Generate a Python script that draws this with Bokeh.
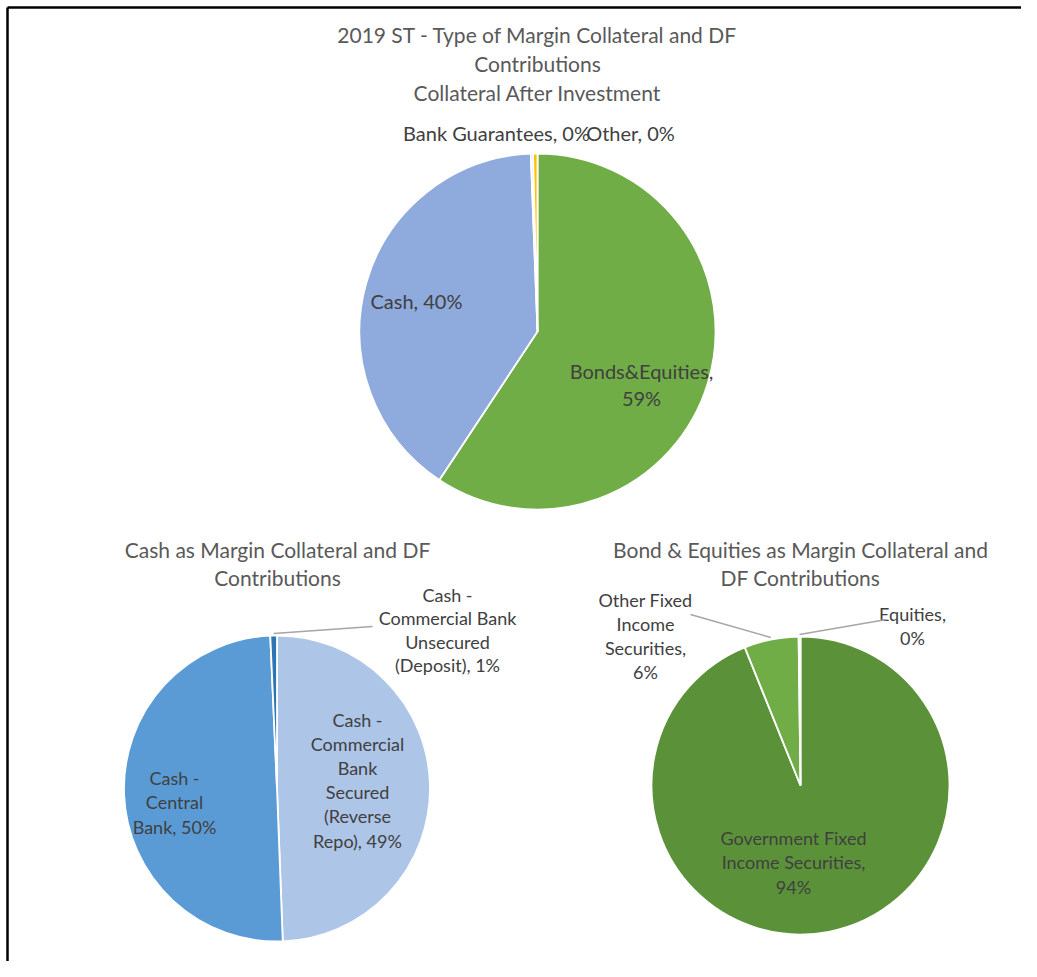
import math
from bokeh.plotting import figure
from bokeh.models import Range1d, ColumnDataSource
from bokeh.core.properties import value
from bokeh.embed import file_html
from bokeh.resources import INLINE

# ---------------- data ----------------
top_title = "2019 ST - Type of Margin Collateral and DF\nContributions\nCollateral After Investment"
top_cats = ["Bonds&Equities", "Cash", "Bank Guarantees", "Other"]
top_vals = [59.3, 40.1, 0.2, 0.4]
top_pct = ["59%", "40%", "0%", "0%"]
top_colors = ["#70AD47", "#8FAADC", "#A5A5A5", "#FFC000"]

cash_title = "Cash as Margin Collateral and DF\nContributions"
cash_cats = ["Cash - Commercial Bank Secured (Reverse Repo)", "Cash - Central Bank",
             "Cash - Commercial Bank Unsecured (Deposit)"]
cash_vals = [49.4, 49.9, 0.7]
cash_pct = ["49%", "50%", "1%"]
cash_colors = ["#ADC5E7", "#5B9BD5", "#2E75B6"]

bond_title = "Bond & Equities as Margin Collateral and\nDF Contributions"
bond_cats = ["Government Fixed Income Securities", "Other Fixed Income Securities", "Equities"]
bond_vals = [93.9, 5.9, 0.2]
bond_pct = ["94%", "6%", "0%"]
bond_colors = ["#5B9239", "#70AD47", "#A9D18E"]

# ---------------- layout ----------------
W, H = 1021, 961
OFF = 0


def Y(y_page):
    return H - (y_page - OFF)


def X(x_page):
    return x_page - OFF


p = figure(width=W, height=H, output_backend="svg", toolbar_location=None,
           x_range=Range1d(0, W), y_range=Range1d(0, H),
           x_axis_location=None, y_axis_location=None, min_border=0)
p.grid.visible = False
p.outline_line_color = None
p.background_fill_color = "white"

# frame border (left and top)
p.line([X(7), X(7)], [Y(7), 0], line_color="black", line_width=2.5)
p.line([X(7), W], [Y(7), Y(7)], line_color="black", line_width=2.5)

TXT = "#404040"
TTL = "#595959"
FONT = value("Lato")


def pie(cx, cy, r, vals, colors):
    total = float(sum(vals))
    starts, ends, cum = [], [], 0.0
    for v in vals:
        a0 = math.pi / 2 - 2 * math.pi * cum / total
        cum += v
        a1 = math.pi / 2 - 2 * math.pi * cum / total
        starts.append(a0)
        ends.append(a1)
    src = ColumnDataSource(dict(x=[X(cx)] * len(vals), y=[Y(cy)] * len(vals),
                                s=starts, e=ends, c=colors))
    p.wedge(x="x", y="y", radius=r, start_angle="s", end_angle="e", direction="clock",
            fill_color="c", line_color="white", line_width=1.8, source=src)
    mids = [(a + b) / 2 for a, b in zip(starts, ends)]
    return mids


def edge_point(cx, cy, r, ang):
    return X(cx) + r * math.cos(ang), Y(cy) + r * math.sin(ang)


def label(xp, yp, txt, size, lh=1.1, color=TXT):
    p.text(x=[X(xp)], y=[Y(yp)], text=[txt], text_align="center", text_baseline="middle",
           text_font=FONT, text_font_size=size, text_color=color, text_line_height=lh)


# ---------- top pie ----------
label(537, 63, top_title, "21px", lh=1.15, color=TTL)
tm = pie(537, 331, 178, top_vals, top_colors)
label(641, 383.5, top_cats[0] + ",\n" + top_pct[0], "20px", lh=1.125)
label(416, 300, top_cats[1] + ", " + top_pct[1], "20px")
label(496, 132, top_cats[2] + ", " + top_pct[2], "20px")
label(630, 132, top_cats[3] + ", " + top_pct[3], "20px")

# ---------- cash pie ----------
label(277, 563, cash_title, "21px", lh=1.11, color=TTL)
cm = pie(276.5, 788, 153, cash_vals, cash_colors)
label(357, 779.5, "Cash -\nCommercial\nBank\nSecured\n(Reverse\nRepo), " + cash_pct[0], "18px", lh=1.1)
label(174, 802, "Cash -\nCentral\nBank, " + cash_pct[1], "18px", lh=1.1)
label(447, 629.5, "Cash -\nCommercial Bank\nUnsecured\n(Deposit), " + cash_pct[2], "18px", lh=1.07)
sx, sy = edge_point(276.5, 788, 155, cm[2])
p.line([sx, X(372)], [sy, Y(626)], line_color="#A6A6A6", line_width=1.5)

# ---------- bond pie ----------
label(800, 563, bond_title, "21px", lh=1.11, color=TTL)
bm = pie(800, 785, 149, bond_vals, bond_colors)
label(793, 862, "Government Fixed\nIncome Securities,\n" + bond_pct[0], "18px", lh=1.1)
label(645, 635.5, "Other Fixed\nIncome\nSecurities,\n" + bond_pct[1], "18px", lh=1.1)
label(912, 625.5, "Equities,\n" + bond_pct[2], "18px", lh=1.07)
sx, sy = edge_point(800, 785, 151, bm[1])
p.line([sx, X(690)], [sy, Y(614)], line_color="#A6A6A6", line_width=1.5)
sx, sy = edge_point(800, 785, 151, bm[2])
p.line([sx, X(886)], [sy, Y(619)], line_color="#A6A6A6", line_width=1.5)

open("out.html", "w").write(file_html(p, INLINE))
